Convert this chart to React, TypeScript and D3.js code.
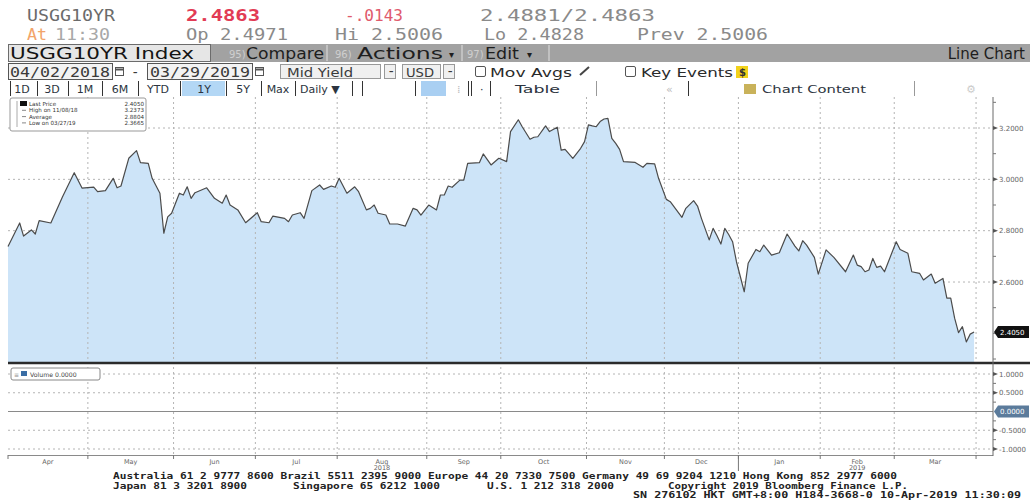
import { useEffect, useRef } from 'react';
import * as d3 from 'd3';

// session number = trading day counted from 04/02/2018 (bond market holidays skipped)
const sessions = [
  0, 3, 4, 6, 7, 8, 11, 14, 17, 19, 22, 23, 25, 27, 28, 29, 31, 33, 34, 36,
  37, 39, 40, 41, 42, 44, 45, 46, 47, 48, 51, 53, 55, 56, 57, 59, 61, 64, 65, 67,
  68, 71, 72, 73, 75, 76, 78, 80, 81, 83, 84, 85, 87, 89, 90, 92, 93, 94, 95, 97,
  98, 100, 102, 104, 105, 106, 108, 110, 111, 112, 113, 114, 116, 117, 118, 121, 122, 124, 126, 128,
  129, 131, 132, 134, 135, 136, 138, 139, 141, 142, 143, 145, 147, 148, 149, 150, 151, 152, 153, 154,
  155, 156, 157, 158, 161, 163, 164, 166, 167, 169, 170, 173, 174, 176, 177, 178, 180, 181, 182, 183,
  184, 185, 186, 187, 189, 190, 192, 193, 194, 196, 198, 200, 202, 203, 204, 205, 207, 208, 210, 212,
  215, 217, 218, 219, 220, 221, 222, 223, 224, 225, 228, 229, 231, 232, 234, 235, 237, 238, 240, 241,
  242, 243, 244, 245, 246, 247, 248,
];
const yields = [
  2.738, 2.830, 2.779, 2.803, 2.787, 2.839, 2.830, 2.932, 3.026, 2.966, 2.970, 2.952, 2.956, 3.004, 2.967, 2.974, 3.082, 3.112, 3.065, 3.062,
  3.004, 2.946, 2.790, 2.854, 2.868, 2.946, 2.939, 2.971, 2.926, 2.948, 2.967, 2.926, 2.907, 2.939, 2.900, 2.881, 2.831, 2.870, 2.835, 2.831,
  2.857, 2.848, 2.835, 2.861, 2.870, 2.848, 2.956, 2.978, 2.961, 2.974, 2.969, 3.004, 2.946, 2.971, 2.952, 2.881, 2.887, 2.900, 2.868, 2.861,
  2.826, 2.826, 2.818, 2.887, 2.881, 2.861, 2.900, 2.881, 2.939, 2.939, 2.974, 2.969, 2.997, 2.997, 3.062, 3.065, 3.099, 3.056, 3.082, 3.069,
  3.186, 3.232, 3.205, 3.156, 3.164, 3.166, 3.208, 3.186, 3.203, 3.114, 3.117, 3.082, 3.121, 3.147, 3.212, 3.208, 3.205, 3.225, 3.235, 3.2373,
  3.160, 3.140, 3.117, 3.069, 3.066, 3.047, 3.062, 3.060, 3.004, 2.922, 2.913, 2.852, 2.887, 2.917, 2.896, 2.848, 2.764, 2.809, 2.780, 2.748,
  2.809, 2.785, 2.757, 2.679, 2.562, 2.673, 2.727, 2.718, 2.744, 2.705, 2.714, 2.787, 2.740, 2.721, 2.761, 2.744, 2.696, 2.631, 2.725, 2.696,
  2.640, 2.705, 2.666, 2.660, 2.640, 2.647, 2.692, 2.657, 2.662, 2.640, 2.757, 2.727, 2.712, 2.640, 2.634, 2.608, 2.631, 2.595, 2.614, 2.537,
  2.537, 2.459, 2.403, 2.426, 2.3665, 2.397, 2.405,
];

const holidays = [
  '2018-05-28', '2018-07-04', '2018-09-03', '2018-10-08', '2018-11-12', '2018-11-22',
  '2018-12-05', '2018-12-25', '2019-01-01', '2019-01-21', '2019-02-18',
];

const priceTicks = [3.2, 3.0, 2.8, 2.6];
const priceMinor = [3.3, 3.1, 2.9, 2.7, 2.5, 2.4, 2.3];
const volumeTicks = [1, 0.5, -0.5, -1];
const volumeMinor = [0.75, 0.25, -0.25, -0.75];

const legendLabels = ['Last Price', 'High on 11/08/18', 'Average', 'Low on 03/27/19'];
const legendValues = ['2.4050', '3.2373', '2.8804', '2.3665'];

const periodButtons = ['1D', '3D', '1M', '6M', 'YTD', '1Y', '5Y', 'Max'];

const footerLines = [
  ['Australia 61 2 9777 8600 Brazil 5511 2395 9000 Europe 44 20 7330 7500 Germany 49 69 9204 1210 Hong Kong 852 2977 6000'],
  ['Japan 81 3 3201 8900', 'Singapore 65 6212 1000', 'U.S. 1 212 318 2000', 'Copyright 2019 Bloomberg Finance L.P.'],
  ['SN 276102 HKT  GMT+8:00 H184-3668-0 10-Apr-2019 11:30:09'],
];

const MONO = '"DejaVu Sans Mono", monospace';
const SANS = '"DejaVu Sans", Verdana, sans-serif';
const FIT = 'spacingAndGlyphs';

// trading calendar 04/02/2018 .. 04/01/2019
const fmtDay = d3.timeFormat('%Y-%m-%d');
const tradingDays = d3.timeDay
  .range(new Date(2018, 3, 2), new Date(2019, 3, 2))
  .filter(d => d.getDay() % 6 !== 0 && !holidays.includes(fmtDay(d)));

export default function App() {
  const plotRef = useRef<SVGGElement>(null);

  useEffect(() => {
    if (!plotRef.current) return;
    const g = d3.select(plotRef.current);
    g.selectAll('*').remove();

    const left = 8, plotRight = 993;
    const x = d3.scaleLinear().domain([0, tradingDays.length - 1]).range([left, 978]);
    const y = d3.scaleLinear().domain([2.2884, 3.3208]).range([362, 97]);
    const yv = d3.scaleLinear().domain([-1.16, 1.24]).range([455, 365]);

    // month boundaries
    const starts: number[] = [];
    tradingDays.forEach((d, i) => {
      if (i === 0 || d.getMonth() !== tradingDays[i - 1].getMonth()) starts.push(i);
    });
    const bounds = starts.map(i => (i === 0 ? left : x(i - 0.5)));

    // horizontal grid
    priceTicks.forEach(v => {
      g.append('line').attr('x1', left).attr('x2', plotRight).attr('y1', y(v)).attr('y2', y(v))
        .attr('stroke', '#b4b4b4').attr('stroke-dasharray', '2,3');
    });
    volumeTicks.forEach(v => {
      g.append('line').attr('x1', left).attr('x2', plotRight).attr('y1', yv(v)).attr('y2', yv(v))
        .attr('stroke', '#b4b4b4').attr('stroke-dasharray', '2,3');
    });

    const data = sessions.map((s, i) => ({ s, v: yields[i] }));

    const area = d3.area<{ s: number; v: number }>()
      .x(d => x(d.s)).y0(362).y1(d => y(d.v));
    g.append('path').datum(data).attr('fill', '#cde4f8').attr('d', area);

    // vertical month grid
    bounds.slice(1).forEach(bx => {
      g.append('line').attr('x1', bx).attr('x2', bx).attr('y1', 97).attr('y2', 455)
        .attr('stroke', '#b4b4b4').attr('stroke-dasharray', '2,3');
    });

    const line = d3.line<{ s: number; v: number }>().x(d => x(d.s)).y(d => y(d.v));
    g.append('path').datum(data).attr('fill', 'none').attr('stroke', '#4b4b4b')
      .attr('stroke-width', 1.2).attr('stroke-linejoin', 'round').attr('d', line);

    // volume zero line
    g.append('line').attr('x1', left).attr('x2', plotRight).attr('y1', yv(0)).attr('y2', yv(0))
      .attr('stroke', '#8a8a8a').attr('stroke-width', 1.2);

    // panel separator + axes
    g.append('line').attr('x1', left).attr('x2', 1030).attr('y1', 363).attr('y2', 363)
      .attr('stroke', '#2b2b2b').attr('stroke-width', 2.5);
    g.append('line').attr('x1', left).attr('x2', plotRight).attr('y1', 455.5).attr('y2', 455.5)
      .attr('stroke', '#8a8a8a');
    g.append('line').attr('x1', plotRight).attr('x2', plotRight).attr('y1', 97).attr('y2', 456)
      .attr('stroke', '#6a6a6a');

    const rightTicks = (scale: d3.ScaleLinear<number, number>, major: number[], minor: number[], fmt: (v: number) => string) => {
      major.forEach(v => {
        g.append('path')
          .attr('d', `M${plotRight},${scale(v) - 2}L${plotRight + 5},${scale(v)}L${plotRight},${scale(v) + 2}Z`)
          .attr('fill', '#555');
        g.append('text').attr('x', plotRight + 6).attr('y', scale(v) + 2.5)
          .attr('font-family', SANS).attr('font-size', 7).attr('fill', '#666').text(fmt(v));
      });
      minor.forEach(v => {
        g.append('line').attr('x1', plotRight).attr('x2', plotRight + 3).attr('y1', scale(v)).attr('y2', scale(v))
          .attr('stroke', '#777');
      });
    };
    rightTicks(y, priceTicks, priceMinor, v => v.toFixed(4));
    rightTicks(yv, volumeTicks, volumeMinor, v => v.toFixed(4));

    // value badges
    const badge = (cy: number, label: string, fill: string) => {
      g.append('path')
        .attr('d', `M${plotRight + 1},${cy}L${plotRight + 5},${cy - 6}H1029V${cy + 6}H${plotRight + 5}Z`)
        .attr('fill', fill);
      g.append('text').attr('x', plotRight + 7).attr('y', cy + 2.5).attr('font-family', SANS)
        .attr('font-size', 7).attr('fill', '#fff').text(label);
    };
    badge(y(yields[yields.length - 1]), yields[yields.length - 1].toFixed(4), '#111');
    badge(yv(0), (0).toFixed(4), '#5b7b9b');

    // x axis ticks + month labels (year under Aug / Feb)
    bounds.forEach(bx => {
      g.append('line').attr('x1', bx).attr('x2', bx).attr('y1', 455).attr('y2', 459).attr('stroke', '#777');
    });
    const fmtMonth = d3.timeFormat('%b');
    starts.slice(0, -1).forEach((s, i) => {
      const cx = (bounds[i] + bounds[i + 1]) / 2;
      const label = fmtMonth(tradingDays[s]);
      const t = g.append('text').attr('x', cx).attr('y', 464).attr('text-anchor', 'middle')
        .attr('font-family', SANS).attr('font-size', 6.5).attr('fill', '#666');
      t.append('tspan').text(label);
      if (label === 'Aug' || label === 'Feb') {
        t.append('tspan').attr('x', cx).attr('dy', 6).text(tradingDays[s].getFullYear());
      }
      if (label === 'Jan') {
        g.append('line').attr('x1', bounds[i]).attr('x2', bounds[i]).attr('y1', 455).attr('y2', 471)
          .attr('stroke', '#777');
      }
    });

    // legend
    const lg = g.append('g');
    lg.append('rect').attr('x', 10).attr('y', 98).attr('width', 136).attr('height', 33).attr('rx', 2)
      .attr('fill', '#fff').attr('stroke', '#999');
    lg.append('line').attr('x1', 17).attr('x2', 17).attr('y1', 101).attr('y2', 127).attr('stroke', '#aaa');
    legendLabels.forEach((lab, i) => {
      const ty = 106 + i * 6.3;
      if (i === 0) lg.append('rect').attr('x', 20).attr('y', ty - 5).attr('width', 7).attr('height', 5).attr('fill', '#111');
      else lg.append('line').attr('x1', 22).attr('x2', 26).attr('y1', ty - 2).attr('y2', ty - 2).attr('stroke', '#888');
      lg.append('text').attr('x', 29).attr('y', ty).attr('font-family', SANS).attr('font-size', 5.6)
        .attr('fill', '#333').text(lab);
      lg.append('text').attr('x', 144).attr('y', ty).attr('text-anchor', 'end').attr('font-family', SANS)
        .attr('font-size', 5.6).attr('fill', '#333').text(legendValues[i]);
    });

    // volume legend
    const vg = g.append('g');
    vg.append('rect').attr('x', 11).attr('y', 368).attr('width', 89).attr('height', 12).attr('rx', 2)
      .attr('fill', '#fff').attr('stroke', '#888');
    vg.append('text').attr('x', 14).attr('y', 376.5).attr('font-family', SANS).attr('font-size', 6).attr('fill', '#888').text('≡');
    vg.append('rect').attr('x', 21).attr('y', 371).attr('width', 6).attr('height', 5).attr('fill', '#3a6ea5');
    vg.append('text').attr('x', 30).attr('y', 376.5).attr('font-family', SANS).attr('font-size', 6.2)
      .attr('fill', '#444').text('Volume 0.0000');
  }, []);

  const sep = (xx: number, y1: number, y2: number, c = '#333') => (
    <line key={`s${xx}-${y1}`} x1={xx} x2={xx} y1={y1} y2={y2} stroke={c} />
  );
  const btnX = [22, 52, 85, 120, 158, 204, 243, 278];
  const btnSep = [10, 37, 68, 102, 138, 180, 226, 261, 295, 352];

  return (
    <svg width={1030} height={500} style={{ position: 'absolute', left: 0, top: 0, background: '#fff' }}>
      {/* quote line */}
      <g fontFamily={MONO} fontSize={16}>
        <text x={27} y={21} fill="#6b6b6b" textLength={88} lengthAdjust={FIT}>USGG10YR</text>
        <text x={186} y={21} fill="#e23b55" fontWeight="bold" textLength={74} lengthAdjust={FIT}>2.4863</text>
        <text x={345} y={21} fill="#e05a6c" textLength={58} lengthAdjust={FIT}>-.0143</text>
        <text x={480} y={21} fill="#8a8a8a" textLength={175} lengthAdjust={FIT}>2.4881/2.4863</text>
        <text x={27} y={40} fill="#f2a46a" textLength={20} lengthAdjust={FIT}>At</text>
        <text x={55} y={40} fill="#a8a8a8" textLength={55} lengthAdjust={FIT}>11:30</text>
        <text x={186} y={40} fill="#8a8a8a" textLength={102} lengthAdjust={FIT}>Op 2.4971</text>
        <text x={335} y={40} fill="#8a8a8a" textLength={108} lengthAdjust={FIT}>Hi 2.5006</text>
        <text x={484} y={40} fill="#8a8a8a" textLength={100} lengthAdjust={FIT}>Lo 2.4828</text>
        <text x={637} y={40} fill="#8a8a8a" textLength={131} lengthAdjust={FIT}>Prev 2.5006</text>
      </g>

      {/* title bar */}
      <rect x={8} y={44} width={1022} height={18} fill="#a2a2a2" />
      <rect x={8.5} y={44.5} width={202} height={17} fill="#e6e6e6" stroke="#6c6c6c" />
      <text x={10} y={59} fontFamily={SANS} fontSize={16} fill="#141414" textLength={184} lengthAdjust={FIT}>USGG10YR Index</text>
      <g fontFamily={SANS}>
        <text x={229} y={58} fontSize={10} fill="#cfcfcf">95)</text>
        <text x={246} y={59} fontSize={15} fill="#1e1e1e" textLength={78} lengthAdjust={FIT}>Compare</text>
        {sep(327, 45, 61, '#e0e0e0')}
        <text x={335} y={58} fontSize={10} fill="#cfcfcf">96)</text>
        <text x={357} y={59} fontSize={15} fill="#1e1e1e" textLength={86} lengthAdjust={FIT}>Actions</text>
        <text x={449} y={58} fontSize={10} fill="#1e1e1e">▾</text>
        {sep(462, 45, 61, '#e0e0e0')}
        <text x={467} y={58} fontSize={10} fill="#cfcfcf">97)</text>
        <text x={485} y={59} fontSize={15} fill="#1e1e1e" textLength={34} lengthAdjust={FIT}>Edit</text>
        <text x={527} y={58} fontSize={10} fill="#1e1e1e">▾</text>
        {sep(549, 45, 61, '#e0e0e0')}
        <text x={1025} y={59} fontSize={15} fill="#1e1e1e" textAnchor="end">Line Chart</text>
      </g>

      {/* date / options row */}
      <g fontFamily={MONO} fontSize={14} fill="#3a3a3a">
        <rect x={8.5} y={63.5} width={104} height={16} fill="#f3f3f3" stroke="#555" />
        <text x={10} y={76.5} textLength={100} lengthAdjust={FIT}>04/02/2018</text>
        <rect x={115.5} y={67.5} width={8} height={8} fill="#fff" stroke="#555" />
        <line x1={116} x2={123} y1={69.5} y2={69.5} stroke="#555" strokeWidth={2} />
        <text x={131} y={76.5}>-</text>
        <rect x={147.5} y={63.5} width={105} height={16} fill="#f3f3f3" stroke="#555" />
        <text x={150} y={76.5} textLength={100} lengthAdjust={FIT}>03/29/2019</text>
        <rect x={255.5} y={67.5} width={8} height={8} fill="#fff" stroke="#555" />
        <line x1={256} x2={263} y1={69.5} y2={69.5} stroke="#555" strokeWidth={2} />
        <rect x={280.5} y={64.5} width={100} height={14} fill="#f0f0f0" stroke="#999" />
        <text x={287} y={76.5} fontFamily={SANS} fontSize={13} textLength={66} lengthAdjust={FIT}>Mid Yield</text>
        <rect x={384.5} y={64.5} width={11} height={14} fill="#f0f0f0" stroke="#999" />
        <text x={387} y={76}>-</text>
        <rect x={402.5} y={64.5} width={38} height={14} fill="#f0f0f0" stroke="#999" />
        <text x={406} y={76.5} fontFamily={SANS} fontSize={13} textLength={28} lengthAdjust={FIT}>USD</text>
        <rect x={443.5} y={64.5} width={11} height={14} fill="#f0f0f0" stroke="#999" />
        <text x={446} y={76}>-</text>
      </g>
      <g fontFamily={SANS} fontSize={13} fill="#2a2a2a">
        <rect x={475.5} y={66.5} width={10} height={10} rx={1.5} fill="#fff" stroke="#555" />
        <text x={490} y={77} textLength={82} lengthAdjust={FIT}>Mov Avgs</text>
        <line x1={580} x2={589} y1={75} y2={67} stroke="#444" strokeWidth={2} />
        <rect x={625.5} y={66.5} width={10} height={10} rx={1.5} fill="#fff" stroke="#555" />
        <text x={641} y={77} textLength={92} lengthAdjust={FIT}>Key Events</text>
        <rect x={736} y={66} width={12} height={12} fill="#f2d21a" />
        <text x={739} y={76} fontSize={10} fontWeight="bold" fill="#333">$</text>
      </g>

      {/* period buttons row */}
      <g fontFamily={SANS} fontSize={11} fill="#2c3440">
        <rect x={182} y={81} width={43} height={15} fill="#b3d7f5" />
        <rect x={421} y={81} width={25} height={15} fill="#a9cff2" />
        {btnSep.map(b => sep(b + 0.5, 81, 96))}
        {periodButtons.map((b, i) => (
          <text key={b} x={btnX[i]} y={93} textAnchor="middle">{b}</text>
        ))}
        <text x={300} y={93}>Daily ▼</text>
        {sep(362.5, 81, 96)}
        {sep(415.5, 81, 96)}
        <text x={457} y={93} fill="#bbb">⁞</text>
        {sep(468.5, 81, 96)}
        {sep(471.5, 81, 96)}
        <text x={480} y={93}>·</text>
        {sep(490.5, 81, 96)}
        <text x={515} y={93} textLength={45} lengthAdjust={FIT}>Table</text>
        {sep(596.5, 81, 96, '#999')}
        <text x={666} y={93} fill="#bbb">«</text>
        {sep(688.5, 81, 96)}
        <rect x={744} y={84} width={12} height={10} fill="#c9b25a" />
        <text x={762} y={93} textLength={104} lengthAdjust={FIT}>Chart Content</text>
        {sep(914.5, 81, 96, '#999')}
        <text x={966} y={93} fill="#ccc">⚙</text>
      </g>

      <g ref={plotRef} />

      {/* footer: one text block, one tspan per segment */}
      <text fontFamily={MONO} fontSize={9.5} fontWeight="bold" fill="#222">
        <tspan x={113} y={479} textLength={784} lengthAdjust={FIT}>{footerLines[0][0]}</tspan>
        <tspan x={113} y={488.5} textLength={134} lengthAdjust={FIT}>{footerLines[1][0]}</tspan>
        <tspan x={293} y={488.5} textLength={147} lengthAdjust={FIT}>{footerLines[1][1]}</tspan>
        <tspan x={487} y={488.5} textLength={127} lengthAdjust={FIT}>{footerLines[1][2]}</tspan>
        <tspan x={668} y={488.5} textLength={240} lengthAdjust={FIT}>{footerLines[1][3]}</tspan>
        <tspan x={633} y={498} textLength={388} lengthAdjust={FIT}>{footerLines[2][0]}</tspan>
      </text>
    </svg>
  );
}
